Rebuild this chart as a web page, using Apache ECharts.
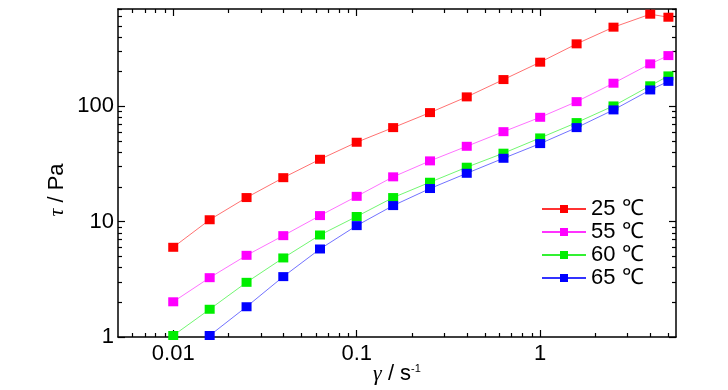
<!DOCTYPE html>
<html>
<head>
<meta charset="utf-8">
<script src="https://cdn.jsdelivr.net/npm/echarts@6/dist/echarts.min.js"></script>
<style>html,body{margin:0;padding:0;background:#fff;}#c{width:728px;height:390px;}</style>
</head>
<body>
<div id="c"></div>
<script>
// ---- data ----
const shearRate = [0.01, 0.0158, 0.0251, 0.0398, 0.0631, 0.1, 0.158, 0.251, 0.398, 0.631, 1, 1.58, 2.51, 3.98, 5.0];
const tau25 = [6.0, 10.4, 16.2, 24.1, 34.8, 48.9, 65.5, 88.4, 121, 171, 242, 349, 487, 631, 594];
const tau55 = [2.02, 3.27, 5.11, 7.57, 11.3, 16.6, 24.5, 33.7, 45.1, 60.4, 80.5, 110, 159, 234, 276];
const tau60 = [1.03, 1.74, 2.98, 4.85, 7.67, 11.1, 16.2, 22.0, 29.7, 39.3, 53.3, 72.4, 101, 151, 184];
const tau65 = [null, 1.03, 1.83, 3.34, 5.80, 9.25, 13.8, 19.4, 26.3, 35.5, 47.6, 65.5, 93.3, 139, 165];
const seriesNames = ['25 ℃', '55 ℃', '60 ℃', '65 ℃'];
const seriesColors = ['#ff0000', '#ff00ff', '#00ee00', '#0000ff'];
const xMajorTicks = [0.01, 0.1, 1];
const xMinorTicks = [0.006, 0.007, 0.008, 0.009, 0.02, 0.03, 0.04, 0.05, 0.06, 0.07, 0.08, 0.09,
                     0.2, 0.3, 0.4, 0.5, 0.6, 0.7, 0.8, 0.9, 2, 3, 4, 5];
const yMajorTicks = [1, 10, 100];
const yMinorTicks = [2, 3, 4, 5, 6, 7, 8, 9, 20, 30, 40, 50, 60, 70, 80, 90, 200, 300, 400, 500, 600, 700];
const xMin = 0.005, xMax = 5.5, yMin = 1, yMax = 700;

const FONT = "'Liberation Sans Narrow', 'Arial Narrow', 'Liberation Sans', Arial, sans-serif";
const lg = Math.log10;

function pairs(ys) {
  const out = [];
  ys.forEach((v, i) => { if (v != null) out.push([shearRate[i], v]); });
  return out;
}

function tickAxis(position, min, max, vals, len, showLine) {
  return {
    type: 'value', position: position, min: lg(min), max: lg(max),
    axisLine: { show: showLine, onZero: false, lineStyle: { color: '#000', width: 1.5 } },
    axisTick: { show: true, inside: true, length: len, customValues: vals.map(lg), lineStyle: { color: '#000', width: 1.2 } },
    axisLabel: { show: false }, splitLine: { show: false }
  };
}

const chart = echarts.init(document.getElementById('c'), null, { renderer: 'canvas' });
const dataSets = [tau25, tau55, tau60, tau65];

chart.setOption({
  animation: false,
  backgroundColor: '#fff',
  grid: { left: 118, right: 52, top: 9, bottom: 53, containLabel: false, outerBoundsMode: 'none' },
  legend: {
    orient: 'vertical', left: 536, top: 193, itemWidth: 44, itemHeight: 10, itemGap: 1,
    textStyle: { fontFamily: FONT, fontSize: 22, color: '#000', padding: [0, 0, 0, 0] },
    data: seriesNames
  },
  xAxis: [
    {
      type: 'log', position: 'bottom', min: xMin, max: xMax, logBase: 10,
      axisLine: { show: true, onZero: false, lineStyle: { color: '#000', width: 1.5 } },
      axisTick: { show: false },
      axisLabel: { show: true, fontFamily: FONT, fontSize: 22, color: '#000', margin: 6,
                   showMinLabel: false, showMaxLabel: false,
                   formatter: v => String(+v.toPrecision(3)) },
      splitLine: { show: false },
      name: '{i|γ} / s{sup|-1}', nameLocation: 'middle', nameGap: 26, nameMoveOverlap: false,
      nameTextStyle: { fontFamily: FONT, fontSize: 22, lineHeight: 22, color: '#000',
        rich: { i: { fontFamily: "'Liberation Serif', serif", fontStyle: 'italic', fontSize: 22, lineHeight: 22, color: '#000' },
                sup: { fontFamily: FONT, fontSize: 11, lineHeight: 22, color: '#000', verticalAlign: 'top' } } }
    },
    tickAxis('bottom', xMin, xMax, xMajorTicks, 7, false),
    tickAxis('bottom', xMin, xMax, xMinorTicks, 4, false),
    tickAxis('top', xMin, xMax, xMajorTicks, 7, true),
    tickAxis('top', xMin, xMax, xMinorTicks, 4, false)
  ],
  yAxis: [
    {
      type: 'log', position: 'left', min: yMin, max: yMax, logBase: 10,
      axisLine: { show: true, onZero: false, lineStyle: { color: '#000', width: 1.5 } },
      axisTick: { show: false },
      axisLabel: { show: true, fontFamily: FONT, fontSize: 22, color: '#000', margin: 4,
                   showMaxLabel: false, formatter: v => String(+v.toPrecision(3)) },
      splitLine: { show: false },
      name: '{i|τ} / Pa', nameLocation: 'middle', nameGap: 50, nameMoveOverlap: false,
      nameTextStyle: { fontFamily: FONT, fontSize: 22, color: '#000', padding: [0, 34, 0, 0],
        rich: { i: { fontFamily: "'Liberation Serif', serif", fontStyle: 'italic', fontSize: 22, color: '#000' } } }
    },
    tickAxis('left', yMin, yMax, yMajorTicks, 7, false),
    tickAxis('left', yMin, yMax, yMinorTicks, 4, false),
    tickAxis('right', yMin, yMax, yMajorTicks, 7, true),
    tickAxis('right', yMin, yMax, yMinorTicks, 4, false)
  ],
  series: dataSets.map((ys, k) => ({
    name: seriesNames[k], type: 'line', xAxisIndex: 0, yAxisIndex: 0,
    data: pairs(ys), symbol: 'rect', symbolSize: [10, 9], showSymbol: true,
    clip: false,
    itemStyle: { color: seriesColors[k] },
    lineStyle: { color: seriesColors[k], width: 0.7, opacity: 0.8 },
    emphasis: { disabled: true }
  }))
});
</script>
</body>
</html>
